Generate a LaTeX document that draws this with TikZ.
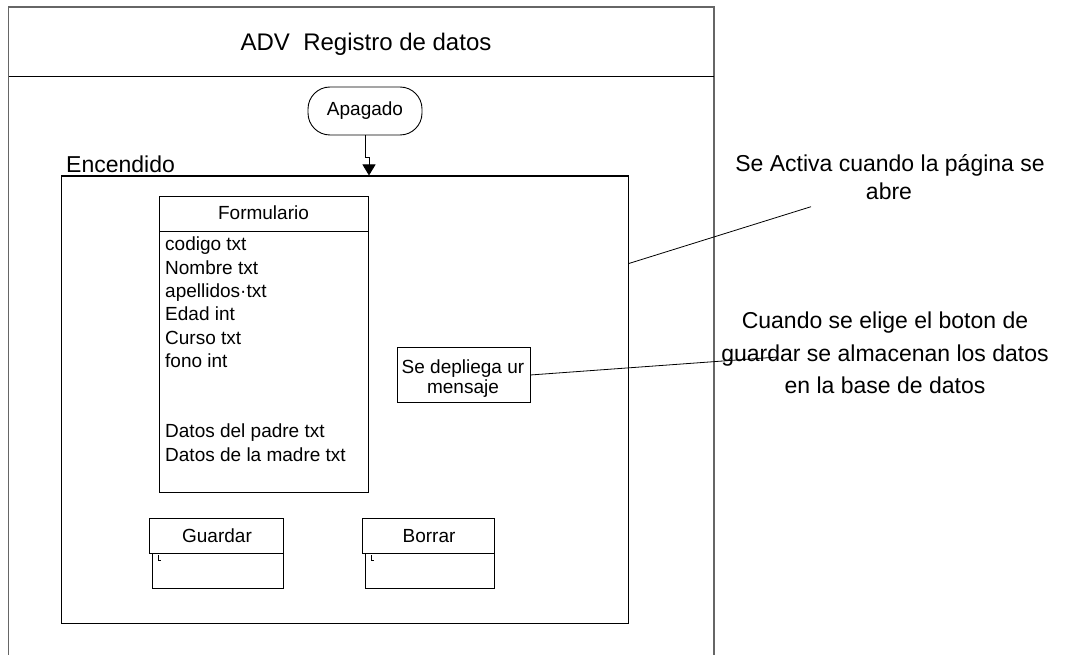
\documentclass[tikz,border=0pt]{standalone}
\usepackage{fontspec}
\setmainfont{Liberation Sans}
\usetikzlibrary{arrows.meta,calc}
\newcommand\fsm{\fontsize{19}{22}\selectfont}
\newcommand\fbg{\fontsize{23}{28}\selectfont}
\newcommand\fti{\fontsize{24}{28}\selectfont}
\begin{document}
\begin{tikzpicture}[x=1pt,y=-1pt,
  box/.style={draw=black,line width=0.9pt,inner sep=0pt,anchor=north west},
  frame/.style={draw=black!60,line width=1.8pt},
  conn/.style={draw=black,line width=0.8pt},
  sm/.style={font=\fsm,inner sep=0pt},
  bg/.style={font=\fbg,inner sep=0pt},
  tick/.style={draw=black,line width=0.7pt}]
\useasboundingbox (0,0) rectangle (1082,655);
\fill[white] (0,0) rectangle (1082,655);
% outer frame
\draw[frame] (8.5,655) -- (8.5,6.7) -- (714,6.7) -- (714,655);
\draw[black,line width=1.3pt] (8.5,76.7) -- (714,76.7);
\node[font=\fti,inner sep=0pt,anchor=base] (title) at (366,50.5) {ADV\ \ Registro de datos};
% Apagado
\node[draw,line width=0.9pt,rounded corners=22pt,minimum width=114pt,minimum height=48pt,inner sep=0pt,font=\fsm] (apagado) at (365,111) {Apagado};
% Encendido
\node[box,line width=1.3pt,minimum width=567pt,minimum height=447pt] (enc) at (60.5,175.5) {};
\node[bg,anchor=base west] (enclabel) at (66,173) {Encendido};
\coordinate (jog) at (369,157);
\draw[conn,-{Triangle[width=13pt,length=11pt]}] (apagado.south) |- (jog) -- (jog |- enc.north);
% Formulario
\node[box,minimum width=209pt,minimum height=296pt] (form) at (159,196) {};
\draw[line width=0.9pt] ([yshift=-35pt]form.north west) -- ([yshift=-35pt]form.north east);
\node[sm,anchor=base] (formt) at (263.5,219.3) {Formulario};
\foreach \k/\t in {0/codigo txt,1/Nombre txt,2/apellidos·txt,3/Edad int,4/Curso txt,5/fono int,8/Datos del padre txt,9/Datos de la madre txt}
  \node[sm,anchor=base west] (f\k) at (165,250.7+23.4*\k) {\t};
% message
\node[box,minimum width=133pt,minimum height=55pt] (msg) at (397,347) {};
\node[sm,anchor=base] (m1) at (463,373) {Se depliega ur};
\node[sm,anchor=base] (m2) at (463,393) {mensaje};
% buttons
\node[box,minimum width=134pt,minimum height=35pt] (gh) at (149,518) {};
\node[box,minimum width=131pt,minimum height=35pt] (gb) at (152,553) {};
\node[sm,anchor=base] (gt) at (217,542.5) {Guardar};
\draw[tick] ($(gb.north west)+(6.3,2)$) -- ++(0,5) -- ++(3,0);
\node[box,minimum width=132pt,minimum height=35pt] (bh) at (362,518) {};
\node[box,minimum width=129pt,minimum height=35pt] (bb) at (365,553) {};
\node[sm,anchor=base] (bt) at (429,542.5) {Borrar};
\draw[tick] ($(bb.north west)+(6.3,2)$) -- ++(0,5) -- ++(3,0);
% notes
\node[bg,anchor=base] (n1a) at (890,171.7) {Se Activa cuando la página se};
\node[bg,anchor=base] (n1b) at (889,200) {abre};
\coordinate (n1end) at (811,206.7);
\draw[conn] ([yshift=-88pt]enc.north east) -- (n1end);
\node[bg,anchor=base] (n2a) at (885,328.5) {Cuando se elige el boton de};
\node[bg,anchor=base] (n2b) at (885,361) {guardar se almacenan los datos};
\node[bg,anchor=base] (n2c) at (885,393.5) {en la base de datos};
\coordinate (n2end) at (778,357);
\draw[conn] (msg.east) -- (n2end);
\end{tikzpicture}
\end{document}
